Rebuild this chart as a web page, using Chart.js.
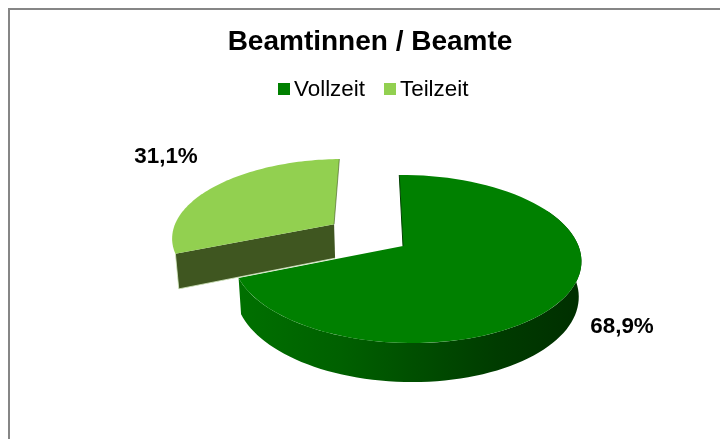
<!DOCTYPE html>
<html>
<head>
<meta charset="utf-8">
<script src="https://cdn.jsdelivr.net/npm/chart.js@4"></script>
<style>
  body { margin: 0; background: #fff; }
  canvas { display: block; }
</style>
</head>
<body>
<canvas id="chart" width="720" height="439"></canvas>
<script>
const categories = ['Vollzeit', 'Teilzeit'];
const shares = [68.9, 31.1];
const explode = [0, 0.5];
const topColors = ['#008000', '#92D050'];
const faceColors = ['#004000', '#3F5620'];
const labelCenters = [[622, 327], [166, 157]];

// tilt of the pie, fitted by eye to the picture
const apex = { x: 403, y: 246 };
const view = { rx: 172, ry: 82, k: 0.155, m: 0.02, lean: 0.025 };

// (u, v) on the pie plane, v pointing away from the viewer. depth = 1 is the underside
function project(u, v, depth) {
  const w = 1 + view.k * v - view.m * u;
  const x = apex.x + view.rx * (u - view.lean * v) / w;
  const y = apex.y - view.ry * v / w;
  if (!depth) return [x, y];
  return [x - (x - 402) * 0.015, y + 34 + (y - 224) * 0.042];
}

function arcPoints(start, end, off, depth) {
  const pts = [];
  const n = 80;
  for (let i = 0; i <= n; i++) {
    const t = start + (end - start) * i / n;
    pts.push(project(off[0] + Math.sin(t), off[1] + Math.cos(t), depth));
  }
  return pts;
}

function fillPath(ctx, pts, fill) {
  ctx.beginPath();
  pts.forEach((p, i) => i ? ctx.lineTo(p[0], p[1]) : ctx.moveTo(p[0], p[1]));
  ctx.closePath();
  ctx.fillStyle = fill;
  ctx.fill();
}

const framePlugin = {
  id: 'frame',
  beforeDraw(chart) {
    const ctx = chart.ctx;
    ctx.fillStyle = '#868686';
    ctx.fillRect(8, 8, 712, 2);
    ctx.fillRect(8, 8, 2, 431);
  }
};

const pie3dPlugin = {
  id: 'pie3d',
  // the arcs are measured by Chart.js, only the painting is done here
  beforeDatasetDraw(chart, args) {
    const ctx = chart.ctx;
    const arcs = chart.getDatasetMeta(args.index).data;

    arcs.forEach((arc, i) => {
      const start = arc.startAngle + Math.PI / 2;
      const end = arc.endAngle + Math.PI / 2;
      const mid = (start + end) / 2;
      const off = [Math.sin(mid) * explode[i], Math.cos(mid) * explode[i]];
      const center = project(off[0], off[1]);
      const centerLow = project(off[0], off[1], 1);
      const topArc = arcPoints(start, end, off);
      const first = topArc[0];
      const last = topArc[topArc.length - 1];
      const firstLow = project(off[0] + Math.sin(start), off[1] + Math.cos(start), 1);

      if (i === 0) {
        // round outer wall, shaded left to right
        const from = Math.max(start, Math.PI * 0.35);
        const wall = arcPoints(from, end, off).concat(arcPoints(from, end, off, 1).reverse());
        const grad = ctx.createLinearGradient(239, 0, 580, 0);
        grad.addColorStop(0, '#007000');
        grad.addColorStop(0.3, '#006000');
        grad.addColorStop(0.55, '#004c00');
        grad.addColorStop(0.75, '#003c00');
        grad.addColorStop(1, '#002f00');
        fillPath(ctx, wall, grad);
      } else {
        // cut face towards the viewer
        fillPath(ctx, [first, center, centerLow, firstLow], faceColors[i]);
        ctx.strokeStyle = 'rgba(215,235,195,0.8)';
        ctx.lineWidth = 1;
        ctx.beginPath();
        ctx.moveTo(first[0], first[1]);
        ctx.lineTo(firstLow[0], firstLow[1]);
        ctx.lineTo(centerLow[0], centerLow[1]);
        ctx.stroke();
      }

      fillPath(ctx, [center].concat(topArc), topColors[i]);

      // thin dark rim on the straight edge at 12 o'clock
      const rimTop = i === 0 ? first : last;
      ctx.strokeStyle = faceColors[i];
      ctx.globalAlpha = i === 0 ? 1 : 0.6;
      ctx.lineWidth = 1;
      ctx.beginPath();
      ctx.moveTo(rimTop[0], rimTop[1]);
      ctx.lineTo(center[0], center[1]);
      ctx.stroke();
      ctx.globalAlpha = 1;
    });
    return false;
  },
  afterDraw(chart) {
    const ctx = chart.ctx;
    ctx.textBaseline = 'middle';

    // percentage labels
    ctx.textAlign = 'center';
    ctx.fillStyle = '#000';
    ctx.font = 'bold 22.4px "Liberation Sans"';
    shares.forEach((v, i) => {
      ctx.fillText(v.toFixed(1).replace('.', ',') + '%', labelCenters[i][0], labelCenters[i][1]);
    });

    // legend: the gap between box and text is narrower than the built in one
    ctx.textAlign = 'left';
    ctx.font = '22.4px "Liberation Sans"';
    const boxX = [278, 384];
    categories.forEach((name, i) => {
      ctx.fillStyle = topColors[i];
      ctx.fillRect(boxX[i], 83, 12, 12);
      ctx.fillStyle = '#000';
      ctx.fillText(name, boxX[i] + 16, 90);
    });
  }
};

new Chart(document.getElementById('chart'), {
  type: 'pie',
  data: {
    labels: categories,
    datasets: [{ data: shares, backgroundColor: topColors }]
  },
  options: {
    responsive: false,
    animation: false,
    layout: { padding: { left: 20, top: 25 } },
    plugins: {
      legend: { display: false },
      tooltip: { enabled: false },
      title: {
        display: true,
        text: 'Beamtinnen / Beamte',
        color: '#000',
        font: { family: '"Liberation Sans"', size: 28, weight: 'bold' },
        padding: { top: 0, bottom: 0 }
      }
    }
  },
  plugins: [framePlugin, pie3dPlugin]
});
</script>
</body>
</html>
